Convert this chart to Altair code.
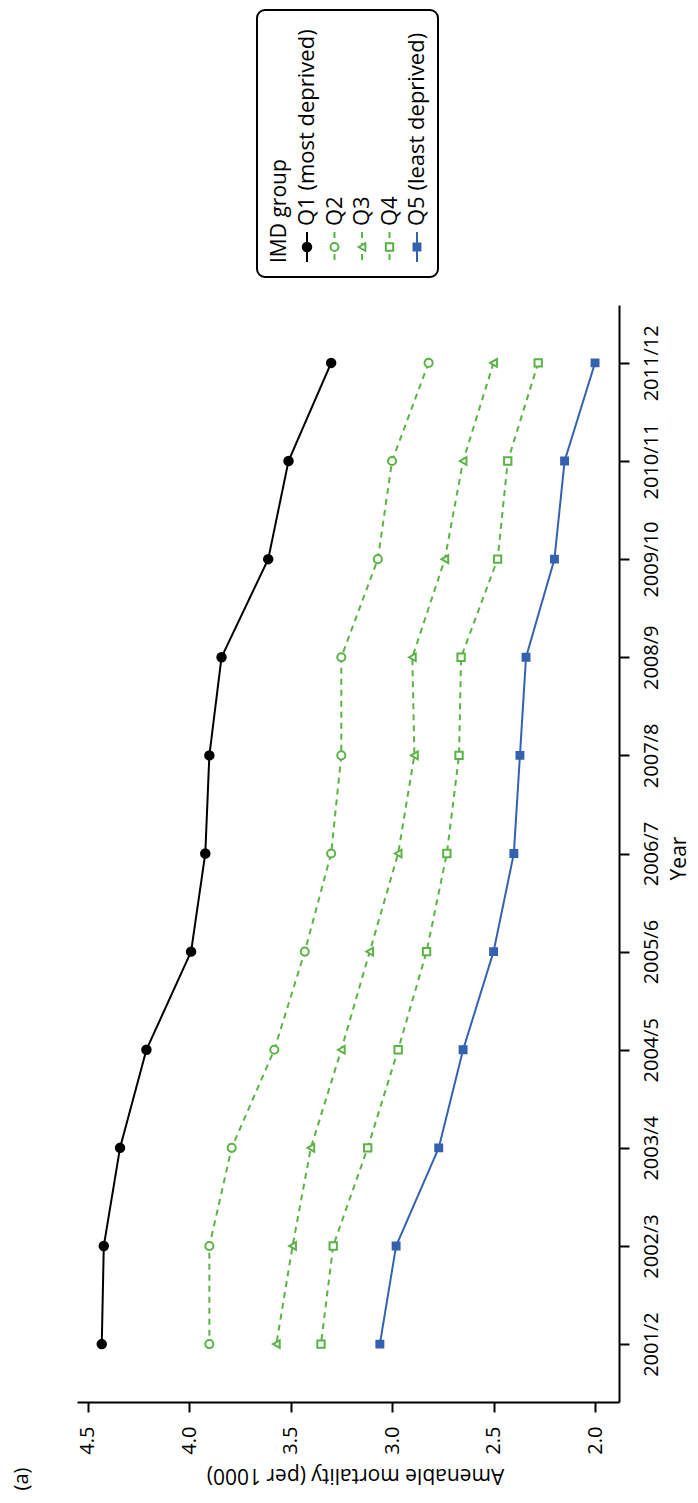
import altair as alt
import pandas as pd

years = ["2001/2", "2002/3", "2003/4", "2004/5", "2005/6", "2006/7",
         "2007/8", "2008/9", "2009/10", "2010/11", "2011/12"]
series = ["Q1 (most deprived)", "Q2", "Q3", "Q4", "Q5 (least deprived)"]
q1 = [4.43, 4.42, 4.34, 4.21, 3.99, 3.92, 3.90, 3.84, 3.61, 3.51, 3.30]
q2 = [3.90, 3.90, 3.79, 3.58, 3.43, 3.30, 3.25, 3.25, 3.07, 3.00, 2.82]
q3 = [3.57, 3.49, 3.40, 3.25, 3.11, 2.97, 2.89, 2.90, 2.74, 2.65, 2.50]
q4 = [3.35, 3.29, 3.12, 2.97, 2.83, 2.73, 2.67, 2.66, 2.48, 2.43, 2.28]
q5 = [3.06, 2.98, 2.77, 2.65, 2.50, 2.40, 2.37, 2.34, 2.20, 2.15, 2.00]
tick_values = [2.0, 2.5, 3.0, 3.5, 4.0, 4.5]
legend_title = "IMD group"
x_title = "Amenable mortality (per 1000)"
y_title = "Year"
panel_label = "(a)"

values = [q1, q2, q3, q4, q5]
rows = []
for s, vals in zip(series, values):
    for y, v in zip(years, vals):
        rows.append({"series": s, "year": y, "value": v})
df = pd.DataFrame(rows)
leg_df = pd.DataFrame({"series": series})

GREEN = "#5ab345"
BLUE = "#3461b0"
colors = ["#000000", GREEN, GREEN, GREEN, BLUE]
fills = ["#000000", "#ffffff", "#ffffff", "#ffffff", BLUE]
dashes = [[1, 0], [6, 5], [6, 5], [6, 5], [1, 0]]
shapes = ["circle", "circle", "triangle-left", "square", "square"]
sizes = [72, 48, 64, 58, 84]
FONT = "Open Sans"

color_enc = alt.Color("series:N", scale=alt.Scale(domain=series, range=colors), legend=None)
stroke_enc = alt.Stroke("series:N", scale=alt.Scale(domain=series, range=colors), legend=None)
fill_enc = alt.Fill("series:N", scale=alt.Scale(domain=series, range=fills), legend=None)
dash_enc = alt.StrokeDash("series:N", scale=alt.Scale(domain=series, range=dashes), legend=None)
shape_enc = alt.Shape("series:N", scale=alt.Scale(domain=series, range=shapes), legend=None)
size_enc = alt.Size("series:N", scale=alt.Scale(domain=series, range=sizes), legend=None)

x_enc = alt.X(
    "value:Q",
    scale=alt.Scale(domain=[1.882, 4.552], reverse=True, nice=False, zero=False),
    axis=alt.Axis(
        values=tick_values, format=".1f", title=x_title,
        labelAngle=270, labelAlign="right", labelBaseline="middle", labelPadding=14,
        titleAngle=180, titleAlign="center", titleBaseline="middle",
        titleX=278, titleY=72,
    ),
)
y_enc = alt.Y(
    "year:O",
    sort=list(reversed(years)),
    scale=alt.Scale(type="point", padding=0.59),
    axis=alt.Axis(
        orient="right", title=y_title,
        labelAngle=270, labelAlign="center", labelBaseline="top", labelPadding=12,
        titleAngle=270, titleAlign="center", titleBaseline="middle",
        titleX=60, titleY=553,
    ),
)

base = alt.Chart(df)
lines = base.mark_line(strokeWidth=2).encode(
    x=x_enc, y=y_enc, color=color_enc, strokeDash=dash_enc, detail="series:N"
)
points = base.mark_point(filled=False, strokeWidth=2, opacity=1).encode(
    x="value:Q", y=alt.Y("year:O", sort=list(reversed(years))),
    stroke=stroke_enc, fill=fill_enc, shape=shape_enc, size=size_enc,
)
main = alt.layer(lines, points)

# Legend (rotated like the rest of the figure)
leg_x = alt.X("series:N", sort=series,
              scale=alt.Scale(type="point", domain=series, range=[230, 340], padding=0),
              axis=None)
box = alt.Chart(pd.DataFrame({"k": [0]})).mark_rect(
    fill="white", stroke="black", strokeWidth=2, cornerRadius=8
).encode(x=alt.value(180), x2=alt.value(361), y=alt.value(-295), y2=alt.value(-28))
leg_title = alt.Chart(pd.DataFrame({"t": [legend_title]})).mark_text(
    angle=270, align="left", baseline="middle", font=FONT, fontSize=21, color="black"
).encode(text="t:N", x=alt.value(203), y=alt.value(-42))
leg_rules = alt.Chart(leg_df).mark_rule(strokeWidth=2).encode(
    x=leg_x, y=alt.value(-73), y2=alt.value(-43),
    color=color_enc, strokeDash=dash_enc,
)
leg_pts = alt.Chart(leg_df).mark_point(filled=False, strokeWidth=2, opacity=1).encode(
    x=leg_x, y=alt.value(-58),
    stroke=stroke_enc, fill=fill_enc, shape=shape_enc, size=size_enc,
)
leg_text = alt.Chart(leg_df).mark_text(
    angle=270, align="left", baseline="middle", font=FONT, fontSize=22, color="black"
).encode(x=leg_x, y=alt.value(-79), text="series:N")
legend = alt.layer(box, leg_title, leg_rules, leg_pts, leg_text)

label = alt.Chart(pd.DataFrame({"t": [panel_label]})).mark_text(
    angle=270, align="center", baseline="middle", font=FONT, fontSize=20, color="black"
).encode(text="t:N", x=alt.value(-55), y=alt.value(1174))

chart = alt.layer(main, legend, label).resolve_scale(x="independent").properties(
    width=542, height=1097,
    autosize=alt.AutoSizeParams(type="none"),
    padding={"left": 69, "top": 297, "right": 71, "bottom": 93},
).configure_view(stroke=None).configure_axis(
    domainColor="black", domainWidth=2, tickColor="black", tickWidth=2, tickSize=10,
    grid=False, labelFont=FONT, labelFontSize=20, labelColor="black",
    titleFont=FONT, titleFontSize=21, titleColor="black", titleFontWeight="normal",
)

chart.save("out.html", embed_options={"renderer": "svg", "actions": False})
